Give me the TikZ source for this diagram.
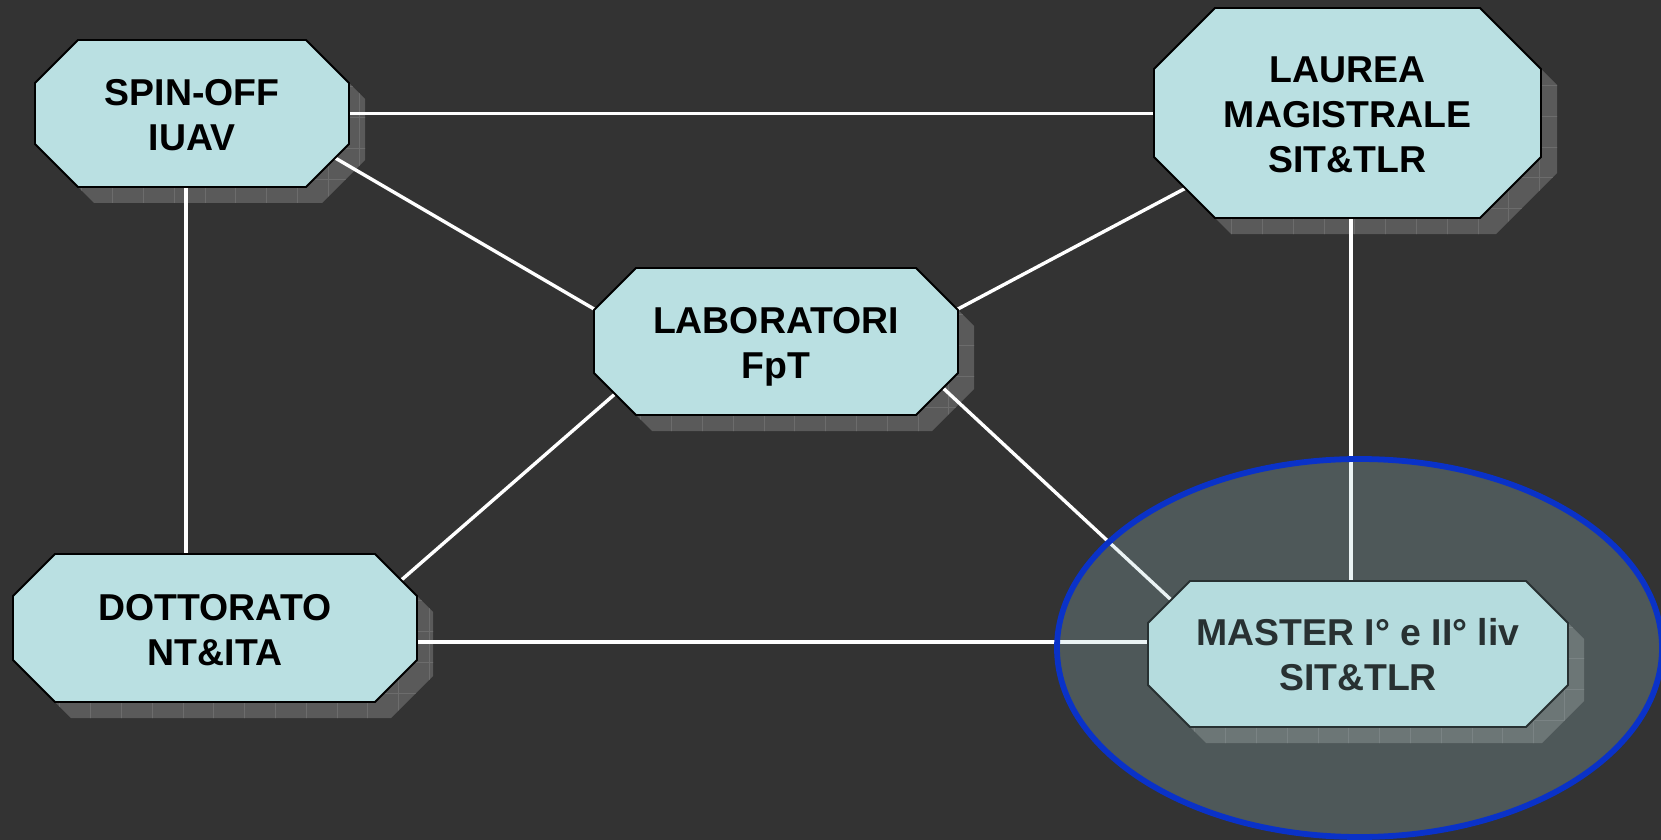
\documentclass[tikz,border=0pt]{standalone}
\usepackage{fontspec}
\setmainfont{Liberation Sans}
\usetikzlibrary{calc}
\definecolor{bgc}{HTML}{333333}
\definecolor{boxc}{HTML}{BAE0E2}
\definecolor{shc}{HTML}{5A5A5A}
\definecolor{gridc}{HTML}{6C6C6C}
\definecolor{ellc}{HTML}{0A32C8}
\definecolor{elfill}{HTML}{A8D0D2}
% octagon around a frame node: #1 name, #2 cut, #3 dx, #4 dy
\newcommand\octpath[4]{($(#1.north west)+(#2+#3,#4)$) -- ($(#1.north east)+(-#2+#3,#4)$) -- ($(#1.north east)+(#3,#2+#4)$) -- ($(#1.south east)+(#3,-#2+#4)$) -- ($(#1.south east)+(-#2+#3,#4)$) -- ($(#1.south west)+(#2+#3,#4)$) -- ($(#1.south west)+(#3,-#2+#4)$) -- ($(#1.north west)+(#3,#2+#4)$) -- cycle}
% shadow with faint grid: #1 name, #2 cut, #3 x1, #4 y1, #5 x2, #6 y2
\newcommand\octshadow[6]{%
  \fill[shc] \octpath{#1}{#2}{16}{16};
  \begin{scope}
    \clip \octpath{#1}{#2}{16}{16};
    \foreach \k in {1,...,15} {\draw[gridc, line width=0.5pt] ({#3+16+30.8*\k},{#4}) -- ({#3+16+30.8*\k},{#6+20});}
    \foreach \k in {1,...,8} {\draw[gridc, line width=0.5pt] ({#3},{#4+16+30.8*\k}) -- ({#5+20},{#4+16+30.8*\k});}
  \end{scope}}
\begin{document}
\begin{tikzpicture}[x=0.5pt,y=-0.5pt,
  frame/.style={inner sep=0pt, outer sep=0pt, draw=none},
  octo/.style={fill=boxc, draw=black, line width=0.9pt, line join=miter},
  conn/.style={draw=white, line width=1.7pt},
  lbl/.style={inner sep=0pt, align=center, text=black,
    font=\fontsize{18.7}{22.5}\selectfont\bfseries}]
\useasboundingbox (0,0) rectangle (1661,840);
\fill[bgc] (0,0) rectangle (1661,840);

% frames (box extents)
\node[frame, minimum width=157pt,   minimum height=73.5pt] (spin)   at (192,113.5)  {};
\node[frame, minimum width=193.5pt, minimum height=105pt]  (laurea) at (1347.5,113) {};
\node[frame, minimum width=182pt,   minimum height=73.5pt] (lab)    at (776,341.5)  {};
\node[frame, minimum width=202pt,   minimum height=74pt]   (dott)   at (215,628)    {};
\node[frame, minimum width=210pt,   minimum height=73pt]   (master) at (1358,654)   {};

% shadows
\octshadow{spin}{43}{35}{40}{349}{187}
\octshadow{laurea}{61}{1154}{8}{1541}{218}
\octshadow{lab}{42}{594}{268}{958}{415}
\octshadow{dott}{42}{13}{554}{417}{702}
\octshadow{master}{42}{1148}{581}{1568}{727}

% connectors
\draw[conn] (spin.east) -- (spin.east -| laurea.west);
\draw[conn] ($(spin.south)+(-6,0)$) coordinate (c2a) -- (c2a |- dott.north);
\draw[conn] ($(spin.center)+(139.8,42.5)$) -- ($(lab.center)+(-176.8,-29.5)$);
\draw[conn] ($(laurea.center)+(-158.2,73.2)$) -- ($(lab.center)+(176.7,-29.7)$);
\draw[conn] ($(laurea.south)+(3.5,0)$) coordinate (c5a) -- (c5a |- master.north);
\draw[conn] ($(lab.center)+(-156.5,48.5)$) -- ($(dott.center)+(179.5,-42)$);
\draw[conn] ($(lab.center)+(162.6,42.4)$) -- ($(master.center)+(-185,-52.4)$);
\draw[conn] ($(dott.east)+(0,14)$) coordinate (c8a) -- (c8a -| master.west);

% boxes
\draw[octo] \octpath{spin}{43}{0}{0};
\draw[octo] \octpath{laurea}{61}{0}{0};
\draw[octo] \octpath{lab}{42}{0}{0};
\draw[octo] \octpath{dott}{42}{0}{0};
\draw[octo] \octpath{master}{42}{0}{0};

% labels
\node[lbl] (spint)   at ($(spin.center)+(0,2)$)   {SPIN-OFF\\IUAV};
\node[lbl] (laureat) at ($(laurea.center)+(0,2)$) {LAUREA\\MAGISTRALE\\SIT\&TLR};
\node[lbl] (labt)    at ($(lab.center)+(0,5)$)    {LABORATORI\\FpT};
\node[lbl] (dottt)   at ($(dott.center)+(0,2)$)   {DOTTORATO\\NT\&ITA};
\node[lbl] (mastert) at ($(master.center)+(0,1)$) {MASTER I° e II° liv\\SIT\&TLR};

% highlight ellipse
\fill[elfill, fill opacity=0.24] (1359.5,648) ellipse [x radius=151.25pt, y radius=94.5pt];
\draw[ellc, line width=2.9pt] (1359.5,648) ellipse [x radius=151.25pt, y radius=94.5pt];
\end{tikzpicture}
\end{document}
